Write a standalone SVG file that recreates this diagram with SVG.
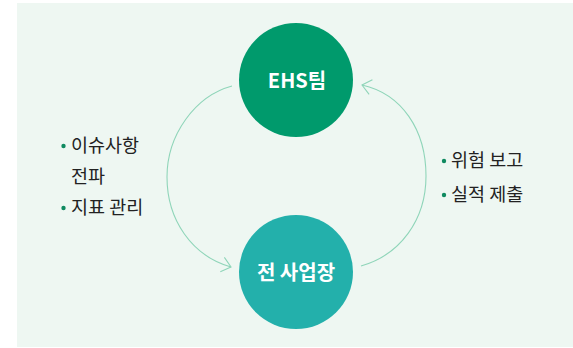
<svg xmlns="http://www.w3.org/2000/svg" width="573" height="348" viewBox="0 0 573 348">
  <style>
    .bg { fill: #eef7f2; }
    .node-label { font-family: "Noto Sans CJK KR", "Noto Sans", sans-serif; font-size: 20px; font-weight: 700; fill: #ffffff; text-anchor: middle; }
    .item { font-family: "Noto Sans CJK KR", "Noto Sans", sans-serif; font-size: 18.5px; fill: #222222; }
    .bullet { fill: #0f8a60; }
    .arc { fill: none; stroke: #8fd5b9; stroke-width: 1.1; marker-end: url(#chevron); }
  </style>
  <defs>
    <marker id="chevron" markerUnits="userSpaceOnUse" viewBox="-12 -9 14 18" refX="0" refY="0" markerWidth="14" markerHeight="18" orient="auto" overflow="visible">
      <path d="M-9,-7.5 L0,0 L-9,7.5" fill="none" stroke="#8fd5b9" stroke-width="1.1"/>
    </marker>
  </defs>
  <rect class="bg" x="17" y="3" width="556" height="344"/>

  <g id="connectors">
    <path class="arc" d="M232,86 C195,96 167,135 167,177 C167,220 192,256 231,267"/>
    <path class="arc" d="M361,266 C400,255 426,220 426,176 C426,130 402,94 362,85"/>
  </g>

  <g id="node-ehs">
    <circle cx="296" cy="80" r="57" fill="#009a6c"/>
    <text class="node-label" x="297" y="88">EHS팀</text>
  </g>

  <g id="node-sites">
    <circle cx="296" cy="272" r="57" fill="#23b0ab"/>
    <text class="node-label" x="296" y="280">전 사업장</text>
  </g>

  <g id="label-left">
    <circle class="bullet" cx="63.5" cy="146" r="2.2"/>
    <text class="item" x="71" y="152">이슈사항</text>
    <text class="item" x="71" y="183">전파</text>
    <circle class="bullet" cx="63.5" cy="208" r="2.2"/>
    <text class="item" x="71" y="214">지표 관리</text>
  </g>

  <g id="label-right">
    <circle class="bullet" cx="444" cy="161" r="2.2"/>
    <text class="item" x="451" y="167">위험 보고</text>
    <circle class="bullet" cx="444" cy="195" r="2.2"/>
    <text class="item" x="451" y="201">실적 제출</text>
  </g>
</svg>
